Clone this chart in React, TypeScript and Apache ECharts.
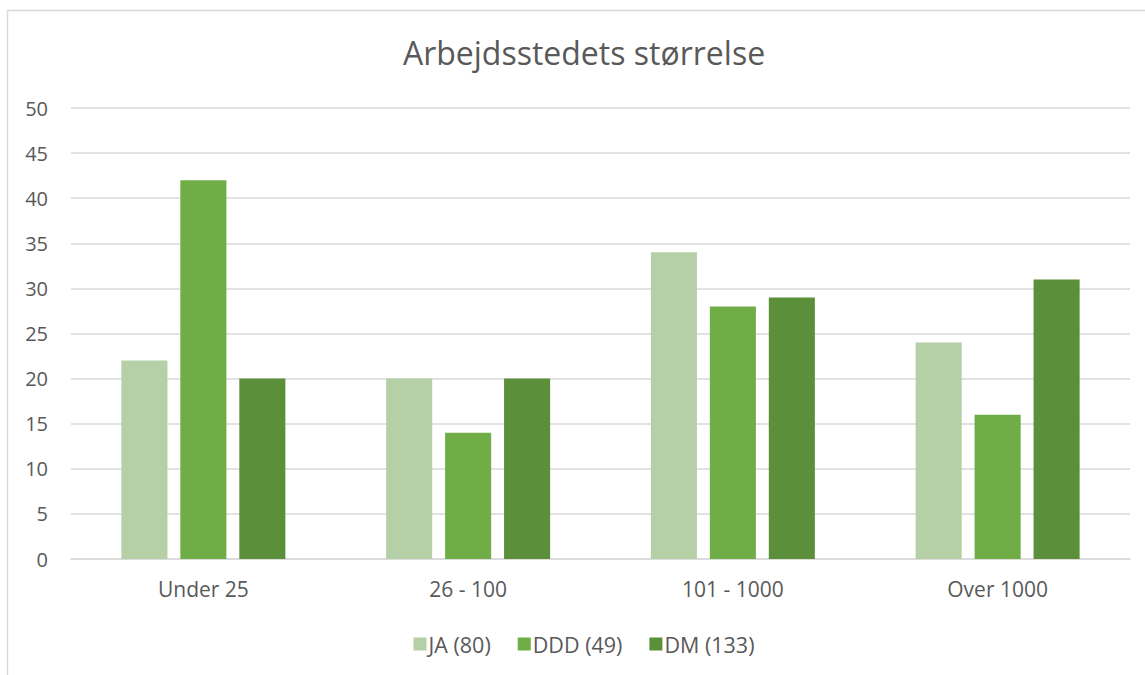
import React, { useEffect, useRef } from "react";
import * as echarts from "echarts";

const categories = ["Under 25", "26 - 100", "101 - 1000", "Over 1000"];
const seriesNames = ["JA (80)", "DDD (49)", "DM (133)"];
const jaValues = [22, 20, 34, 24];
const dddValues = [42, 14, 28, 16];
const dmValues = [20, 20, 29, 31];
const colors = ["#B5CFA7", "#70AD47", "#5B8F39"];

export default function App() {
  const ref = useRef<HTMLDivElement>(null);
  useEffect(() => {
    if (!ref.current) return;
    const chart = echarts.init(ref.current, undefined, { renderer: "svg" });
    const font = "'Open Sans', 'Noto Sans', sans-serif";
    const data = [jaValues, dddValues, dmValues];
    chart.setOption({
      animation: false,
      backgroundColor: "#ffffff",
      textStyle: { fontFamily: font },
      title: {
        text: "Arbejdsstedets størrelse",
        left: "center",
        top: 31,
        textStyle: { fontFamily: font, fontSize: 32, fontWeight: "normal", color: "#595959" },
      },
      graphic: [
        {
          type: "rect",
          shape: { x: 7.5, y: 10.5, width: 1180, height: 700 },
          style: { fill: "none", stroke: "#D9D9D9", lineWidth: 1.5 },
          silent: true,
        },
      ],
      legend: {
        bottom: 15,
        left: "center",
        itemWidth: 13,
        itemHeight: 13,
        itemGap: 27,
        icon: "rect",
        textStyle: { fontFamily: font, fontSize: 21.5, color: "#595959", padding: [0, 0, 0, -3] },
        data: seriesNames,
      },
      grid: { left: 71, right: 38, top: 108, bottom: 116 },
      xAxis: {
        type: "category",
        data: categories,
        axisLine: { lineStyle: { color: "#D9D9D9", width: 1.5 } },
        axisTick: { show: false },
        axisLabel: { fontFamily: font, fontSize: 21, color: "#595959", margin: 19 },
      },
      yAxis: {
        type: "value",
        min: 0,
        max: 50,
        interval: 5,
        axisLine: { show: false },
        axisTick: { show: false },
        splitLine: { lineStyle: { color: "#D9D9D9", width: 1.5 } },
        axisLabel: { fontFamily: font, fontSize: 20, color: "#595959", margin: 23 },
      },
      series: seriesNames.map((name, i) => ({
        name,
        type: "bar",
        data: data[i],
        barWidth: "17.4%",
        barGap: "28%",
        itemStyle: { color: colors[i] },
      })),
    });
    return () => chart.dispose();
  }, []);
  return (
    <div
      ref={ref}
      style={{ position: "fixed", left: 0, top: 0, width: 1168, height: 675 }}
    />
  );
}
